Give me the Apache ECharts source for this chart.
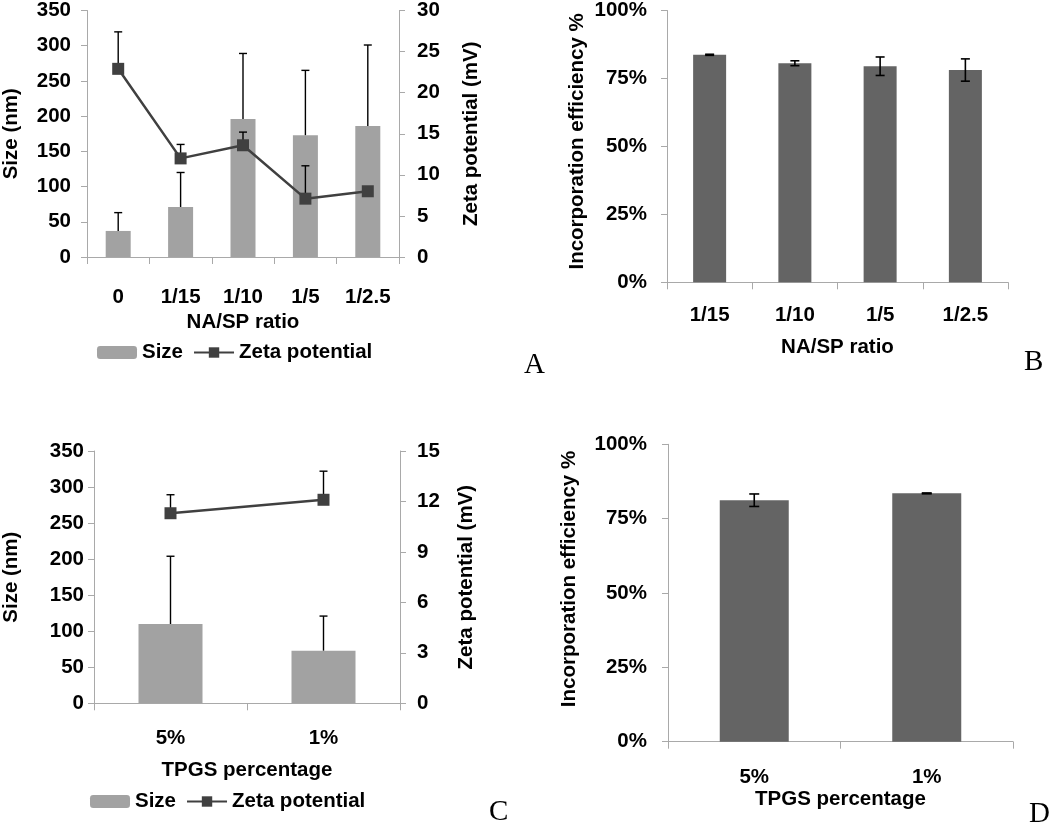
<!DOCTYPE html>
<html>
<head>
<meta charset="utf-8">
<script src="https://cdn.jsdelivr.net/npm/echarts@6/dist/echarts.min.js"></script>
<style>html,body{margin:0;padding:0;background:#fff;}#c{width:1050px;height:829px;}</style>
</head>
<body>
<div id="c"></div>
<script>
// ---- Data ----
const catsA = ['0', '1/15', '1/10', '1/5', '1/2.5'];
const sizeA = [37, 71, 196, 173, 186];
const sizeErrA = [26, 49, 93, 92, 115];
const zetaA = [22.9, 12.0, 13.6, 7.1, 8.0];
const zetaErrA = [4.5, 1.7, 1.6, 4.0, 0];

const catsB = ['1/15', '1/10', '1/5', '1/2.5'];
const effB = [83.7, 80.6, 79.5, 78.1];
const effErrB = [0.2, 0.9, 3.4, 4.1];

const catsC = ['5%', '1%'];
const sizeC = [110, 73];
const sizeErrC = [94, 48];
const zetaC = [11.3, 12.1];
const zetaErrC = [1.1, 1.7];

const catsD = ['5%', '1%'];
const effD = [81.2, 83.5];
const effErrD = [2.1, 0.15];

const sizeTicks = [0, 350, 50];
const zetaTicksA = [0, 30, 5];
const zetaTicksC = [0, 15, 3];
const effTicks = [0, 100, 25];

// ---- Styles ----
const FONT = "'Liberation Sans', Arial, sans-serif";
const FS = 20.5;
const AX = '#a9a9a9';
const lbl = (m) => ({ fontFamily: FONT, fontWeight: 'bold', fontSize: FS, color: '#000', margin: m });
const nameStyle = (pad) => ({ fontFamily: FONT, fontWeight: 'bold', fontSize: FS, color: '#000', padding: pad || 0 });

function xAx(grid, cats, margin, name, gap) {
  return {
    type: 'category', gridIndex: grid, data: cats,
    axisLine: { lineStyle: { color: AX, width: 1 } },
    axisTick: { show: true, length: 7, lineStyle: { color: AX } },
    axisLabel: lbl(margin),
    name: name, nameLocation: 'middle', nameGap: gap, nameTextStyle: nameStyle(),
    splitLine: { show: false }
  };
}
function yAx(grid, t, pos, margin, name, gap, fmt, pad) {
  return {
    type: 'value', gridIndex: grid, position: pos, min: t[0], max: t[1], interval: t[2],
    axisLine: { show: true, lineStyle: { color: AX, width: 1 } },
    axisTick: { show: true, length: 6, lineStyle: { color: AX } },
    axisLabel: Object.assign(lbl(margin), fmt ? { formatter: fmt } : {}),
    splitLine: { show: false },
    name: name, nameLocation: 'middle', nameGap: gap, nameRotate: 90, nameTextStyle: nameStyle(pad)
  };
}

function errRender(capW, lw, twoSided) {
  return function (params, api) {
    const i = api.value(0), v = api.value(1), e = api.value(2);
    if (!e) return null;
    const top = api.coord([i, v + e]);
    const bot = api.coord([i, twoSided ? v - e : v]);
    const h = capW / 2;
    const st = { stroke: '#000', lineWidth: lw };
    const ch = [
      { type: 'line', shape: { x1: top[0], y1: top[1], x2: bot[0], y2: bot[1] }, style: st },
      { type: 'line', shape: { x1: top[0] - h, y1: top[1], x2: top[0] + h, y2: top[1] }, style: st }
    ];
    if (twoSided) ch.push({ type: 'line', shape: { x1: bot[0] - h, y1: bot[1], x2: bot[0] + h, y2: bot[1] }, style: st });
    return { type: 'group', children: ch };
  };
}
function errData(vals, errs) { return vals.map((v, i) => [i, v, errs[i]]); }
function errSeries(name, xi, yi, vals, errs, capW, lw, two, z) {
  return { type: 'custom', name: name, xAxisIndex: xi, yAxisIndex: yi, silent: true, z: z,
    renderItem: errRender(capW, lw, two), encode: { x: 0, y: 1 }, data: errData(vals, errs) };
}

const chart = echarts.init(document.getElementById('c'), null, { renderer: 'canvas' });
const legendText = { fontFamily: FONT, fontWeight: 'bold', fontSize: FS, color: '#000' };
const letter = { fontFamily: "'Liberation Serif', serif", fontWeight: 'normal', fontSize: 29, color: '#000' };
chart.setOption({
  backgroundColor: '#fff',
  animation: false,
  grid: [
    { left: 75, top: 8, width: 324, height: 249 },
    { left: 667, top: 9.3, width: 341, height: 273 },
    { left: 82, top: 451, width: 318, height: 252.3 },
    { left: 668, top: 444.3, width: 345, height: 297.4 }
  ],
  xAxis: [
    xAx(0, catsA, 30, 'NA/SP ratio', 55),
    xAx(1, catsB, 23, 'NA/SP ratio', 55),
    xAx(2, catsC, 25, 'TPGS percentage', 57),
    xAx(3, catsD, 25, 'TPGS percentage', 47)
  ],
  yAxis: [
    yAx(0, sizeTicks, 'left', 16, 'Size (nm)', 65),
    yAx(0, zetaTicksA, 'right', 18, 'Zeta potential (mV)', 62),
    yAx(1, effTicks, 'left', 20, 'Incorporation efficiency %', 79, '{value}%', [0, 0, 0, 10]),
    yAx(2, sizeTicks, 'left', 10, 'Size (nm)', 72),
    yAx(2, zetaTicksC, 'right', 17, 'Zeta potential (mV)', 56),
    yAx(3, effTicks, 'left', 21, 'Incorporation efficiency %', 88, '{value}%', [0, 0, 0, 28])
  ],
  legend: [
    { left: 97, top: 342, padding: 0, itemWidth: 40, itemHeight: 13, itemGap: 10, data: ['Size', 'Zeta potential'],
      textStyle: legendText, selectedMode: false },
    { left: 90, top: 791, padding: 0, itemWidth: 40, itemHeight: 13, itemGap: 10, data: ['Size', 'Zeta potential'],
      textStyle: legendText, selectedMode: false }
  ],
  title: [
    { text: 'A', left: 524, top: 351, padding: 0, textStyle: letter },
    { text: 'B', left: 1024, top: 348, padding: 0, textStyle: letter },
    { text: 'C', left: 489, top: 798, padding: 0, textStyle: letter },
    { text: 'D', left: 1029, top: 800, padding: 0, textStyle: letter }
  ],
  series: [
    // Panel A
    { type: 'bar', name: 'Size', xAxisIndex: 0, yAxisIndex: 0, data: sizeA, barWidth: 25, z: 2,
      itemStyle: { color: '#a2a2a2' } },
    errSeries('sizeErrA', 0, 0, sizeA, sizeErrA, 8, 1.4, false, 3),
    errSeries('zetaErrA', 0, 1, zetaA, zetaErrA, 8, 1.4, false, 4),
    { type: 'line', name: 'Zeta potential', xAxisIndex: 0, yAxisIndex: 1, data: zetaA, z: 5,
      symbol: 'rect', symbolSize: 12, lineStyle: { color: '#404040', width: 2.5 },
      itemStyle: { color: '#404040' } },
    // Panel B
    { type: 'bar', name: 'effB', xAxisIndex: 1, yAxisIndex: 2, data: effB, barWidth: 33, z: 2,
      itemStyle: { color: '#646464' } },
    errSeries('effErrB', 1, 2, effB, effErrB, 9, 1.6, true, 3),
    // Panel C
    { type: 'bar', name: 'Size', xAxisIndex: 2, yAxisIndex: 3, data: sizeC, barWidth: 64, z: 2,
      itemStyle: { color: '#a2a2a2' } },
    errSeries('sizeErrC', 2, 3, sizeC, sizeErrC, 8, 1.4, false, 3),
    errSeries('zetaErrC', 2, 4, zetaC, zetaErrC, 8, 1.4, false, 4),
    { type: 'line', name: 'Zeta potential', xAxisIndex: 2, yAxisIndex: 4, data: zetaC, z: 5,
      symbol: 'rect', symbolSize: 12, lineStyle: { color: '#404040', width: 2.5 },
      itemStyle: { color: '#404040' } },
    // Panel D
    { type: 'bar', name: 'effD', xAxisIndex: 3, yAxisIndex: 5, data: effD, barWidth: 69, z: 2,
      itemStyle: { color: '#646464' } },
    errSeries('effErrD', 3, 5, effD, effErrD, 10, 1.6, true, 3)
  ]
});
</script>
</body>
</html>
